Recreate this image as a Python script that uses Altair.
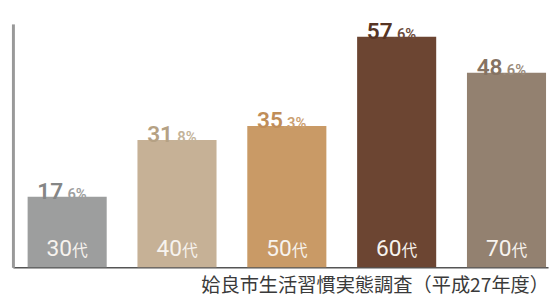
import altair as alt
import pandas as pd

ages = ["30代", "40代", "50代", "60代", "70代"]
age_nums = ["30", "40", "50", "60", "70"]
values = [17.6, 31.8, 35.3, 57.6, 48.6]
int_parts = ["17", "31", "35", "57", "48"]
dec_parts = [".6%", ".8%", ".3%", ".6%", ".6%"]
bar_colors = ["#9d9e9e", "#c6b196", "#c99a66", "#6c4532", "#938170"]
int_colors = ["#858686", "#b5a184", "#c08d58", "#563424", "#857363"]
dec_colors = ["#9d9e9e", "#c4b399", "#cba071", "#6c4a3a", "#9a8a7a"]
source = "姶良市生活習慣実態調査（平成27年度）"

df = pd.DataFrame({
    "age": ages, "num": age_nums, "value": values,
    "ip": int_parts, "dp": dec_parts,
    "ic": int_colors, "dc": dec_colors,
})

x = alt.X("age:N", sort=ages,
          scale=alt.Scale(paddingInner=0.28, paddingOuter=0.076, align=0.88),
          axis=alt.Axis(title=None, labels=False, ticks=False, domain=True,
                        domainColor="#555555", domainWidth=1.5))
y = alt.Y("value:Q", scale=alt.Scale(domain=[0, 60.8], nice=False, zero=True),
          axis=alt.Axis(title=None, labels=False, ticks=False, grid=False,
                        domain=True, domainColor="#999999", domainWidth=3))

base = alt.Chart(df)

bars = base.mark_bar().encode(
    x=x, y=y,
    color=alt.Color("age:N", sort=ages,
                    scale=alt.Scale(domain=ages, range=bar_colors), legend=None),
)

int_lbl = base.mark_text(align="right", baseline="alphabetic", dx=-4, dy=2,
                         font="Roboto", fontSize=23, fontWeight=600).encode(
    x=alt.X("age:N", sort=ages), y="value:Q", text="ip:N",
    color=alt.Color("ic:N", scale=None),
)
dec_lbl = base.mark_text(align="left", baseline="alphabetic", dx=-4, dy=2,
                         font="Roboto", fontSize=15, fontWeight=600).encode(
    x=alt.X("age:N", sort=ages), y="value:Q", text="dp:N",
    color=alt.Color("dc:N", scale=None),
)

num_lbl = base.mark_text(align="right", baseline="alphabetic", dx=5, dy=-11,
                         font="Roboto", fontSize=23, color="#f7f3ee").encode(
    x=alt.X("age:N", sort=ages), y=alt.datum(0), text="num:N",
)
dai_lbl = base.mark_text(align="left", baseline="alphabetic", dx=5, dy=-11,
                         font="Noto Sans CJK JP", fontSize=16, color="#f7f3ee").encode(
    x=alt.X("age:N", sort=ages), y=alt.datum(0), text=alt.value("代"),
)

chart = alt.layer(bars, int_lbl, dec_lbl, num_lbl, dai_lbl).properties(
    width=543, height=247,
    autosize=alt.AutoSizeParams(type="none"),
    padding={"left": 5, "top": 14, "right": 3, "bottom": 30},
    title=alt.TitleParams(source, orient="bottom", anchor="end", dx=1, offset=10,
                          font="Noto Sans CJK JP", fontSize=19.5,
                          fontWeight="normal", color="#3a3a3a"),
).configure_view(stroke=None)

chart.save("out.html", embed_options={"renderer": "svg", "actions": False})
